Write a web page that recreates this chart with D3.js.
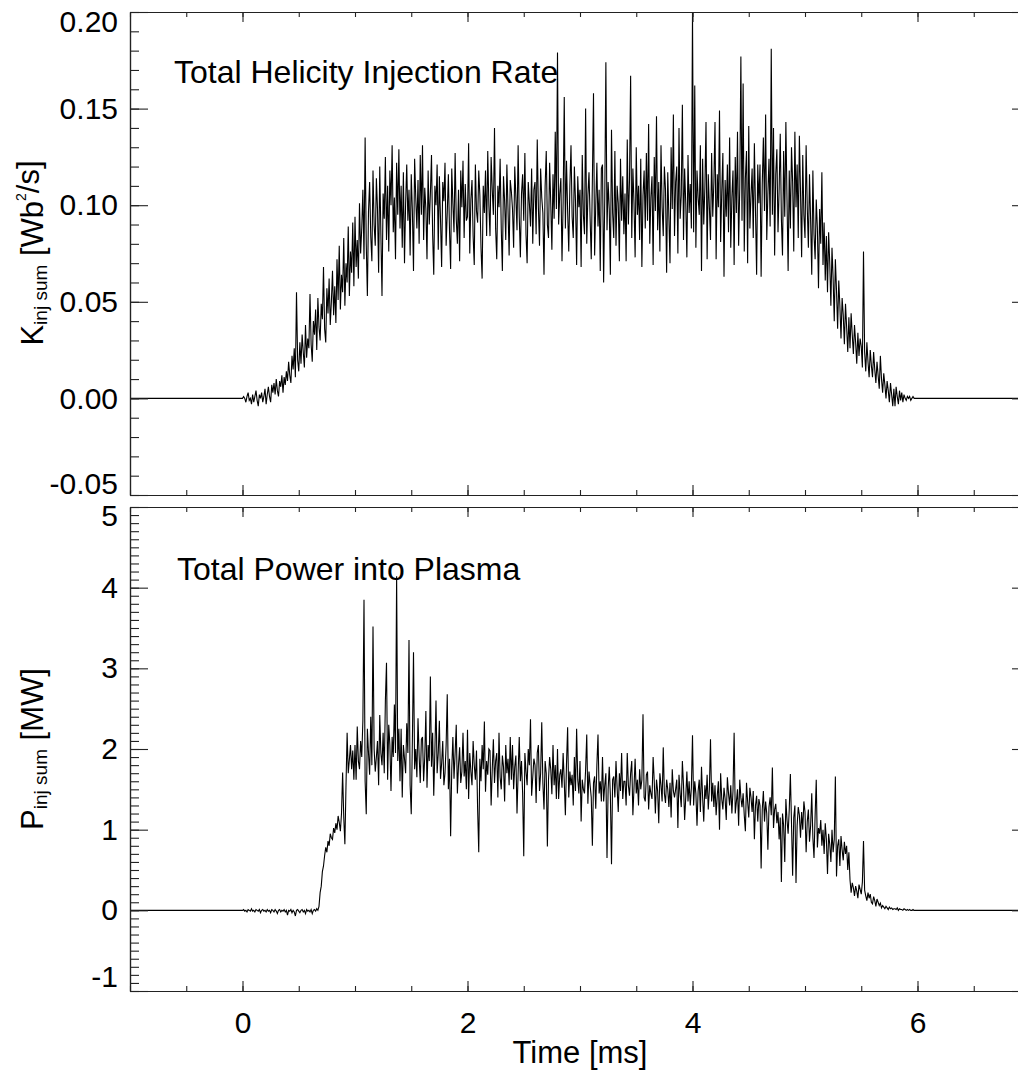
<!DOCTYPE html>
<html><head><meta charset="utf-8">
<script src="https://cdn.jsdelivr.net/npm/d3@7"></script>
<style>body{margin:0;background:#fff}</style>
</head><body>
<svg id="c" width="1018" height="1072"></svg>
<script>
// ---- data ----
const T_START = 0.0, T_STEP = 0.01;          // sampling of the recorded window (ms)
const T_RANGE = [-1, 7];                      // time axis range (ms)
const flatBefore = [[-1.0, 0]];               // signal is zero before the shot
const flatAfter = [[7.0, 0]];                 // and after it

// Total helicity injection rate K_inj sum [Wb^2/s], t = 0.00 .. 6.00 ms (one row = 0.2 ms)
const kValues = [
 0.000, 0.001, 0.000,-0.002, 0.001, 0.003,-0.001, 0.000,-0.003, 0.002,-0.002, 0.001, 0.004,-0.001,-0.004, 0.002, 0.000, 0.003,-0.002, 0.001,
 0.005,-0.003, 0.002, 0.006, 0.001,-0.002, 0.007, 0.003, 0.008, 0.002, 0.010, 0.004, 0.001, 0.009, 0.006, 0.012, 0.003, 0.011, 0.007, 0.014,
 0.009, 0.019, 0.012, 0.008, 0.022, 0.015, 0.026, 0.011, 0.055, 0.020, 0.014, 0.029, 0.018, 0.033, 0.024, 0.016, 0.038, 0.021, 0.031, 0.026,
 0.054, 0.028, 0.019, 0.040, 0.033, 0.046, 0.025, 0.052, 0.037, 0.030, 0.049, 0.041, 0.068, 0.036, 0.029, 0.057, 0.044, 0.062, 0.038, 0.050,
 0.066, 0.043, 0.058, 0.039, 0.072, 0.051, 0.079, 0.046, 0.064, 0.055, 0.083, 0.048, 0.070, 0.060, 0.089, 0.053, 0.076, 0.065, 0.091, 0.058,
 0.094, 0.068, 0.082, 0.062, 0.101, 0.075, 0.088, 0.108, 0.072, 0.135, 0.080, 0.053, 0.097, 0.112, 0.084, 0.071, 0.118, 0.090, 0.079, 0.114,
 0.098, 0.065, 0.120, 0.085, 0.053, 0.106, 0.093, 0.125, 0.082, 0.110, 0.076, 0.118, 0.100, 0.131, 0.086, 0.104, 0.072, 0.122, 0.095, 0.129,
 0.088, 0.110, 0.078, 0.117, 0.070, 0.101, 0.121, 0.092, 0.108, 0.074, 0.116, 0.097, 0.066, 0.124, 0.104, 0.088, 0.113, 0.080, 0.126, 0.095,
 0.131, 0.082, 0.109, 0.098, 0.072, 0.118, 0.090, 0.106, 0.126, 0.085, 0.064, 0.110, 0.100, 0.121, 0.077, 0.115, 0.093, 0.068, 0.112, 0.102,
 0.122, 0.079, 0.096, 0.116, 0.087, 0.067, 0.119, 0.101, 0.086, 0.127, 0.093, 0.080, 0.108, 0.071, 0.118, 0.099, 0.123, 0.083, 0.111, 0.092,
 0.094, 0.132, 0.075, 0.103, 0.113, 0.084, 0.069, 0.121, 0.097, 0.091, 0.118, 0.105, 0.078, 0.062, 0.110, 0.096, 0.118, 0.084, 0.128, 0.100,
 0.084, 0.125, 0.108, 0.095, 0.140, 0.088, 0.072, 0.110, 0.099, 0.124, 0.088, 0.066, 0.115, 0.102, 0.082, 0.121, 0.098, 0.074, 0.113, 0.107,
 0.098, 0.078, 0.120, 0.104, 0.087, 0.131, 0.094, 0.073, 0.106, 0.116, 0.092, 0.127, 0.085, 0.070, 0.112, 0.101, 0.089, 0.119, 0.080, 0.108,
 0.112, 0.085, 0.134, 0.099, 0.079, 0.119, 0.104, 0.096, 0.064, 0.110, 0.128, 0.090, 0.083, 0.122, 0.101, 0.077, 0.116, 0.093, 0.138, 0.098,
 0.179, 0.090, 0.106, 0.114, 0.071, 0.101, 0.156, 0.088, 0.123, 0.097, 0.076, 0.110, 0.131, 0.094, 0.083, 0.120, 0.102, 0.069, 0.115, 0.099,
 0.108, 0.068, 0.126, 0.095, 0.085, 0.150, 0.080, 0.105, 0.117, 0.093, 0.072, 0.113, 0.158, 0.074, 0.100, 0.122, 0.089, 0.108, 0.066, 0.119,
 0.121, 0.060, 0.103, 0.174, 0.087, 0.112, 0.098, 0.064, 0.139, 0.096, 0.083, 0.128, 0.079, 0.110, 0.101, 0.071, 0.124, 0.092, 0.115, 0.085,
 0.106, 0.071, 0.134, 0.090, 0.113, 0.167, 0.083, 0.119, 0.101, 0.073, 0.130, 0.095, 0.110, 0.082, 0.124, 0.068, 0.105, 0.118, 0.088, 0.127,
 0.092, 0.142, 0.080, 0.104, 0.115, 0.069, 0.125, 0.097, 0.146, 0.087, 0.112, 0.076, 0.131, 0.099, 0.084, 0.120, 0.108, 0.065, 0.117, 0.094,
 0.070, 0.130, 0.098, 0.147, 0.084, 0.112, 0.120, 0.075, 0.140, 0.093, 0.105, 0.152, 0.082, 0.119, 0.101, 0.073, 0.126, 0.096, 0.111, 0.088,
 0.200, 0.086, 0.162, 0.078, 0.118, 0.104, 0.095, 0.131, 0.066, 0.124, 0.090, 0.109, 0.143, 0.072, 0.116, 0.099, 0.082, 0.127, 0.094, 0.112,
 0.143, 0.072, 0.116, 0.099, 0.149, 0.081, 0.107, 0.127, 0.063, 0.113, 0.094, 0.121, 0.086, 0.135, 0.078, 0.104, 0.118, 0.069, 0.125, 0.096,
 0.138, 0.079, 0.109, 0.177, 0.092, 0.163, 0.076, 0.114, 0.128, 0.070, 0.141, 0.088, 0.105, 0.119, 0.083, 0.132, 0.097, 0.064, 0.121, 0.101,
 0.121, 0.063, 0.111, 0.135, 0.097, 0.147, 0.082, 0.106, 0.124, 0.089, 0.181, 0.095, 0.140, 0.074, 0.116, 0.129, 0.086, 0.108, 0.137, 0.093,
 0.074, 0.128, 0.094, 0.143, 0.103, 0.066, 0.118, 0.088, 0.130, 0.112, 0.076, 0.138, 0.099, 0.121, 0.083, 0.136, 0.107, 0.073, 0.126, 0.095,
 0.083, 0.131, 0.099, 0.078, 0.116, 0.092, 0.064, 0.118, 0.085, 0.072, 0.103, 0.088, 0.057, 0.098, 0.080, 0.117, 0.069, 0.091, 0.061, 0.084,
 0.055, 0.086, 0.070, 0.048, 0.078, 0.062, 0.040, 0.072, 0.056, 0.036, 0.061, 0.048, 0.031, 0.052, 0.043, 0.028, 0.049, 0.037, 0.024, 0.042,
 0.026, 0.044, 0.033, 0.023, 0.038, 0.029, 0.018, 0.034, 0.022, 0.031, 0.027, 0.016, 0.076, 0.024, 0.014, 0.029, 0.019, 0.011, 0.025, 0.017,
 0.011, 0.024, 0.015, 0.008, 0.019, 0.012, 0.005, 0.022, 0.010, 0.003, 0.013, 0.007, 0.000, 0.009, 0.004,-0.002, 0.008, 0.002,-0.004, 0.005,
-0.004, 0.006, 0.001,-0.003, 0.004,-0.001, 0.003,-0.002, 0.002, 0.000,-0.001, 0.001, 0.000, 0.001,-0.001, 0.000, 0.001, 0.000, 0.000, 0.000,
 0.000
];

// Total power into plasma P_inj sum [MW], t = 0.00 .. 6.00 ms (one row = 0.2 ms)
const pValues = [
 0.00, 0.01,-0.01, 0.00,-0.02, 0.01, 0.00,-0.01, 0.02,-0.01, 0.00,-0.02, 0.01, 0.00,-0.01, 0.01,-0.03, 0.00, 0.01,-0.01,
 0.00,-0.02, 0.01,-0.01, 0.00,-0.03, 0.01, 0.00,-0.02, 0.01,-0.01,-0.04, 0.00, 0.01,-0.02, 0.00,-0.01, 0.01,-0.02, 0.00,
-0.06, 0.00,-0.01, 0.01,-0.03, 0.00,-0.02,-0.07, 0.00, 0.01,-0.01,-0.03, 0.00, 0.01,-0.02, 0.00,-0.04, 0.01,-0.01, 0.00,
-0.02, 0.01,-0.04, 0.00, 0.01,-0.01, 0.02, 0.00, 0.05, 0.22, 0.30, 0.48, 0.55, 0.68, 0.78, 0.72, 0.86, 0.80, 0.95, 0.90,
 0.88, 1.02, 0.96, 1.08, 1.00, 1.17, 1.09, 0.98, 1.20, 1.71, 1.15, 0.82, 1.55, 2.20, 1.70, 1.87, 2.05, 1.75, 1.98, 1.62,
 2.05, 1.62, 2.28, 1.85, 1.75, 2.10, 1.90, 2.35, 3.85, 1.60, 1.19, 2.25, 1.95, 1.68, 2.40, 1.80, 3.52, 2.00, 1.72, 1.90,
 2.10, 1.55, 2.42, 1.95, 1.80, 2.20, 1.70, 2.60, 3.07, 1.62, 2.30, 2.05, 1.48, 2.15, 1.90, 2.55, 1.95, 4.14, 1.85, 2.25,
 1.60, 2.25, 1.40, 2.05, 1.88, 1.70, 2.32, 1.95, 3.35, 1.55, 1.19, 2.10, 3.20, 1.75, 2.00, 1.65, 2.38, 1.92, 1.58, 2.12,
 2.15, 1.60, 1.90, 2.47, 1.52, 2.05, 1.85, 2.90, 1.78, 2.20, 1.42, 1.98, 2.60, 1.70, 1.95, 2.35, 1.63, 1.82, 2.10, 1.55,
 1.70, 2.05, 2.68, 1.50, 1.88, 0.92, 1.75, 2.15, 1.63, 1.95, 2.30, 1.45, 1.80, 2.02, 1.58, 1.72, 2.20, 1.66, 1.85, 1.50,
 2.24, 1.38, 1.95, 1.72, 1.55, 2.10, 1.80, 1.62, 1.98, 1.25, 0.72, 1.88, 1.60, 2.05, 1.75, 2.34, 1.47, 1.85, 1.68, 2.00,
 1.98, 1.30, 1.75, 2.12, 1.58, 1.85, 1.95, 1.40, 2.20, 1.65, 1.50, 1.92, 1.78, 1.35, 2.05, 1.70, 1.88, 1.55, 2.15, 1.62,
 2.05, 1.50, 1.78, 1.92, 1.20, 1.70, 2.15, 1.60, 1.85, 1.45, 0.67, 1.95, 1.72, 1.55, 2.00, 1.80, 2.37, 1.42, 1.65, 1.88,
 1.80, 1.33, 1.95, 2.05, 1.48, 1.70, 2.33, 1.58, 1.25, 1.85, 1.70, 0.79, 1.62, 1.90, 1.75, 1.44, 2.05, 1.55, 1.80, 1.38,
 2.00, 1.38, 1.68, 1.75, 1.52, 1.95, 1.60, 1.18, 1.82, 2.27, 1.40, 1.72, 1.55, 1.68, 1.30, 1.90, 1.48, 2.25, 1.62, 1.45,
 1.85, 1.10, 1.62, 1.50, 1.45, 1.75, 2.18, 1.32, 1.72, 1.55, 1.40, 0.80, 1.58, 1.66, 1.26, 1.80, 2.18, 1.45, 1.60, 1.35,
 1.90, 1.35, 1.55, 1.70, 0.65, 1.50, 1.78, 1.42, 0.57, 1.62, 1.66, 1.40, 1.85, 1.52, 1.22, 1.70, 1.48, 1.95, 1.38, 1.60,
 1.60, 1.30, 1.95, 1.55, 1.42, 1.70, 1.85, 1.18, 1.52, 1.88, 1.45, 1.62, 1.30, 1.75, 1.50, 1.62, 2.43, 1.40, 1.35, 1.68,
 1.72, 1.25, 1.55, 1.45, 1.38, 1.90, 1.60, 1.20, 1.62, 1.48, 1.08, 1.70, 1.55, 1.35, 2.02, 1.45, 1.33, 1.62, 1.50, 1.28,
 1.58, 1.15, 1.75, 1.48, 1.40, 1.50, 1.62, 1.02, 1.68, 1.45, 1.28, 1.85, 1.55, 1.12, 1.40, 1.72, 1.35, 1.60, 1.30, 1.52,
 2.17, 1.30, 1.60, 1.45, 1.05, 1.48, 1.62, 1.22, 1.78, 1.40, 1.10, 1.55, 1.38, 1.68, 1.25, 1.50, 2.12, 1.35, 1.58, 1.28,
 1.55, 1.18, 1.42, 1.60, 1.00, 1.70, 1.38, 1.25, 1.52, 1.38, 1.12, 1.65, 1.45, 1.30, 1.55, 1.20, 1.48, 2.20, 1.20, 1.35,
 1.50, 1.05, 1.62, 1.40, 1.28, 1.45, 1.18, 0.98, 1.58, 1.35, 1.15, 1.52, 1.40, 1.22, 1.48, 0.88, 1.30, 1.42, 1.10, 1.38,
 1.30, 0.52, 1.25, 1.48, 1.10, 1.35, 1.20, 0.75, 1.28, 1.40, 1.18, 1.77, 1.02, 1.25, 1.32, 1.08, 1.22, 0.88, 1.15, 0.35,
 1.20, 1.05, 0.60, 1.38, 1.12, 0.95, 1.25, 1.69, 1.08, 0.43, 1.15, 1.30, 0.34, 1.05, 1.28, 1.18, 0.90, 1.22, 1.00, 1.35,
 1.22, 0.72, 1.10, 1.25, 0.85, 1.05, 1.45, 0.90, 0.65, 1.18, 1.62, 0.78, 1.02, 0.95, 1.12, 0.80, 1.00, 0.70, 1.08, 0.88,
 0.45, 0.95, 0.82, 0.60, 1.00, 0.72, 0.88, 1.66, 0.42, 0.80, 0.88, 0.55, 0.92, 0.75, 0.62, 0.85, 0.70, 0.80, 0.50, 0.72,
 0.38, 0.22, 0.34, 0.28, 0.18, 0.30, 0.24, 0.15, 0.32, 0.26, 0.20, 0.35, 0.86, 0.25, 0.18, 0.12, 0.22, 0.15, 0.20, 0.10,
 0.08, 0.17, 0.12, 0.05, 0.14, 0.10, 0.06, 0.09, 0.03, 0.06, 0.04, 0.02, 0.05, 0.03, 0.01, 0.04, 0.02, 0.03, 0.01, 0.02,
 0.02, 0.01, 0.03, 0.00, 0.02, 0.01, 0.01, 0.00, 0.02, 0.01, 0.00, 0.01, 0.00, 0.01, 0.00, 0.00, 0.01, 0.00, 0.00, 0.00,
 0.00
];

// ---- ticks & labels ----
const xTicks = [0, 2, 4, 6];
const xTickLabels = ["0", "2", "4", "6"];
const kDomain = [-0.05, 0.20];
const kTicks = [-0.05, 0.00, 0.05, 0.10, 0.15, 0.20];
const kTickLabels = ["-0.05", "0.00", "0.05", "0.10", "0.15", "0.20"];
const pDomain = [-1, 5];
const pTicks = [-1, 0, 1, 2, 3, 4, 5];
const pTickLabels = ["-1", "0", "1", "2", "3", "4", "5"];
const panelTitles = ["Total Helicity Injection Rate", "Total Power into Plasma"];
const xTitle = "Time [ms]";

// ---- layout ----
const svg = d3.select("#c");
svg.append("rect").attr("width", 1018).attr("height", 1072).attr("fill", "#fff");
const FONT = "'Liberation Sans', Arial, Helvetica, sans-serif";
const L = 130, R = 1030;
const x = d3.scaleLinear().domain(T_RANGE).range([L, R]);

function series(vals) {
  return flatBefore.concat(vals.map((v, i) => [T_START + i * T_STEP, v]), flatAfter);
}

function panel(cfg) {
  const {top, bottom, domain, ticks, labels, minorCount, vals, title, titleXY, id, endShift, showX} = cfg;
  const y = d3.scaleLinear().domain(domain).range([bottom, top]);
  const g = svg.append("g");
  g.append("clipPath").attr("id", id).append("rect")
    .attr("x", L).attr("y", top - 1).attr("width", R - L).attr("height", bottom - top + 2);
  const line = d3.line().x(d => x(d[0])).y(d => y(d[1]));
  g.append("path").datum(series(vals)).attr("d", line)
    .attr("fill", "none").attr("stroke", "#000").attr("stroke-width", 1.1)
    .attr("clip-path", `url(#${id})`);

  const minorY = y.ticks(minorCount);
  const minorX = x.ticks(16);
  const style = sel => {
    sel.selectAll(".domain").attr("stroke", "#222").attr("stroke-width", 1.2);
    sel.selectAll(".tick line").attr("stroke", "#222").attr("stroke-width", 1.1);
    sel.attr("font-family", null).attr("font-size", null);
  };
  // left
  g.append("g").attr("transform", `translate(${L},0)`)
    .call(d3.axisLeft(y).tickValues(minorY).tickSizeInner(-9).tickSizeOuter(0).tickFormat("")).call(style);
  const la = g.append("g").attr("transform", `translate(${L},0)`)
    .call(d3.axisLeft(y).tickValues(ticks).tickSizeInner(-18).tickSizeOuter(0).tickPadding(12)
      .tickFormat((d, i) => labels[i])).call(style);
  la.selectAll("text").attr("font-family", FONT).attr("font-size", 30).attr("fill", "#000")
    .attr("transform", (d, i) => i === 0 ? `translate(0,${endShift[0]})` : i === ticks.length - 1 ? `translate(0,${endShift[1]})` : null);
  // right
  g.append("g").attr("transform", `translate(${R},0)`)
    .call(d3.axisRight(y).tickValues(minorY).tickSizeInner(-9).tickSizeOuter(0).tickFormat("")).call(style);
  g.append("g").attr("transform", `translate(${R},0)`)
    .call(d3.axisRight(y).tickValues(ticks).tickSizeInner(-18).tickSizeOuter(0).tickFormat("")).call(style);
  // top
  g.append("g").attr("transform", `translate(0,${top})`)
    .call(d3.axisTop(x).tickValues(minorX).tickSizeInner(-5).tickSizeOuter(0).tickFormat("")).call(style);
  g.append("g").attr("transform", `translate(0,${top})`)
    .call(d3.axisTop(x).tickValues(xTicks).tickSizeInner(-10).tickSizeOuter(0).tickFormat("")).call(style);
  // bottom
  g.append("g").attr("transform", `translate(0,${bottom})`)
    .call(d3.axisBottom(x).tickValues(minorX).tickSizeInner(-5).tickSizeOuter(0).tickFormat("")).call(style);
  const ba = g.append("g").attr("transform", `translate(0,${bottom})`)
    .call(d3.axisBottom(x).tickValues(xTicks).tickSizeInner(-10).tickSizeOuter(0).tickPadding(21)
      .tickFormat((d, i) => showX ? xTickLabels[i] : "")).call(style);
  ba.selectAll("text").attr("font-family", FONT).attr("font-size", 30).attr("fill", "#000");

  g.append("text").attr("x", titleXY[0]).attr("y", titleXY[1])
    .attr("font-family", FONT).attr("font-size", 32).attr("fill", "#000").text(title);
  return y;
}

panel({top: 12, bottom: 495, domain: kDomain, ticks: kTicks, labels: kTickLabels, minorCount: 25,
  vals: kValues, title: panelTitles[0], titleXY: [174, 83], id: "clipK", endShift: [-11, 10], showX: false});
panel({top: 507, bottom: 991, domain: pDomain, ticks: pTicks, labels: pTickLabels, minorCount: 60,
  vals: pValues, title: panelTitles[1], titleXY: [177, 580], id: "clipP", endShift: [-14, 9], showX: true});

// y-axis titles
function yTitle(cy, sym, unitParts) {
  const t = svg.append("text")
    .attr("transform", `translate(43,${cy}) rotate(-90)`)
    .attr("text-anchor", "middle").attr("font-family", FONT).attr("font-size", 31).attr("fill", "#000");
  t.append("tspan").text(sym);
  t.append("tspan").attr("font-size", 19).attr("dy", 4).text("inj sum");
  unitParts.forEach(p => {
    const s = t.append("tspan").text(p.text);
    if (p.sup) s.attr("font-size", 14).attr("dy", -17);
    else if (p.after) s.attr("dy", 13);
    else s.attr("dy", -4);
  });
}
yTitle(253, "K", [{text: " [Wb"}, {text: "2", sup: true}, {text: "/s]", after: true}]);
yTitle(749, "P", [{text: " [MW]"}]);

svg.append("text").attr("x", 580).attr("y", 1063).attr("text-anchor", "middle")
  .attr("font-family", FONT).attr("font-size", 31).attr("fill", "#000").text(xTitle);
</script>
</body></html>
